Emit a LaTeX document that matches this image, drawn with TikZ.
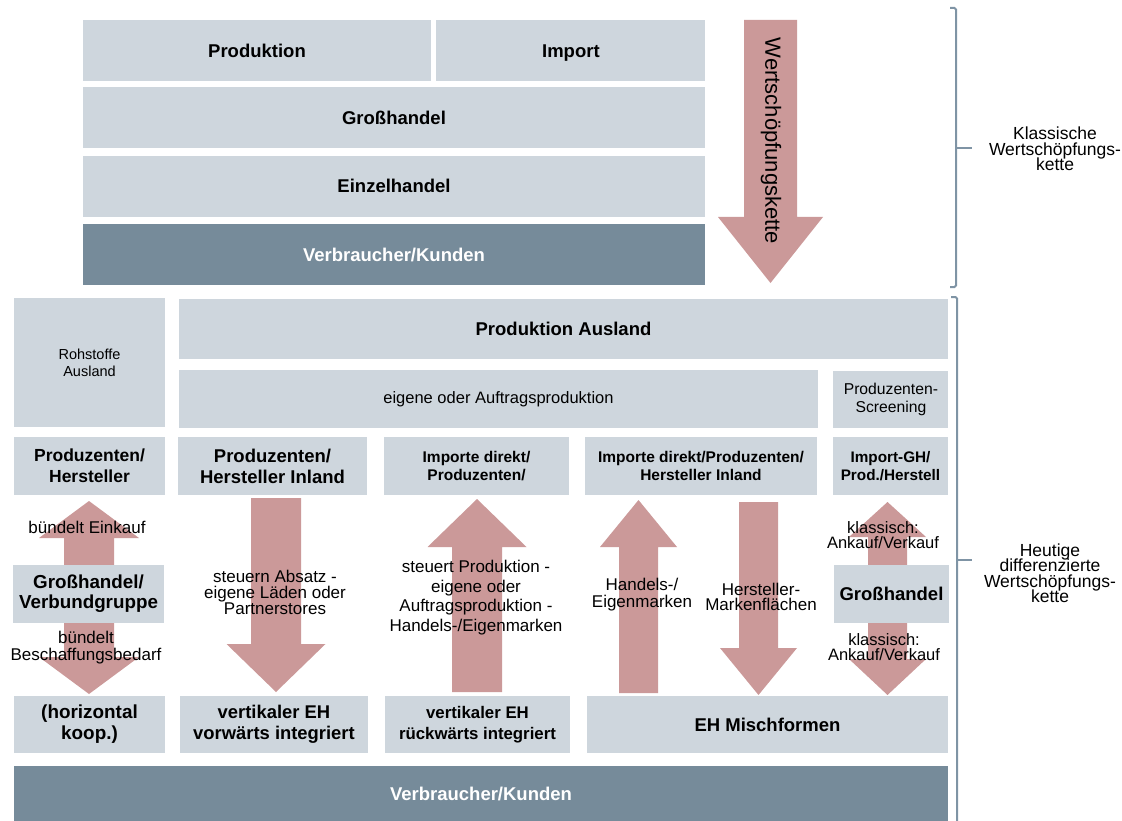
\documentclass[tikz,border=0pt]{standalone}
\usepackage{fontspec}
\setmainfont{Liberation Sans}
\usepackage{xcolor}
\usetikzlibrary{positioning}
\definecolor{boxgrey}{HTML}{CED6DD}
\definecolor{kundenblue}{HTML}{768B9A}
\definecolor{arrowred}{HTML}{CB9999}
\definecolor{bracketblue}{HTML}{7F94A5}
\setlength{\lineskiplimit}{-30pt}

\begin{document}
\begin{tikzpicture}[x=1pt, y=-1pt, box/.style={rectangle, fill=boxgrey, draw=none, inner sep=0pt, align=center, font=\bfseries\fontsize{18.5}{21}\selectfont}, oneline/.style={text height=13.3pt, text depth=0pt}, smallbox/.style={box, font=\bfseries\fontsize{15.5}{18}\selectfont}, thinbox/.style={box, font=\fontsize{15.7}{18}\selectfont}, kundenbox/.style={box, oneline, fill=kundenblue, text=white}, arrowtext/.style={draw=none, fill=none, inner sep=0pt, align=center, font=\fontsize{17}{17}\selectfont}, bigarrow/.style={fill=arrowred, draw=none}, bracket/.style={draw=bracketblue, line width=2pt, rounded corners=1.5pt}, sidetext/.style={draw=none, inner sep=0pt, align=center, font=\fontsize{17.5}{15.5}\selectfont}]

    \useasboundingbox (0,0) rectangle (1122,821);

    %Klassische Kette
    \node[box, oneline, minimum width=348pt, minimum height=61pt](produktion) at (257,50.5){Produktion};
    \node[box, oneline, minimum width=269pt, minimum height=61pt](import)[right=5pt of produktion]{Import};
    \node[box, oneline, minimum width=622pt, minimum height=61pt](grosshandel)[below=6pt of produktion.south west, anchor=north west]{Großhandel};
    \node[box, oneline, minimum width=622pt, minimum height=61pt](einzelhandel)[below=7pt of grosshandel]{Einzelhandel};
    \node[kundenbox, minimum width=622pt, minimum height=61pt](kunden)[below=7pt of einzelhandel]{Verbraucher/Kunden};

    \fill[bigarrow] (744,20) -- (797,20) -- (797,217) -- (823,217) -- (770.5,283) -- (718,217) -- (744,217) -- cycle;
    \node[rotate=-90, inner sep=0pt, font=\fontsize{22}{22}\selectfont](wsk) at (771,141){Wertschöpfungskette};

    \draw[bracket] (950,8) -- (956,8) -- (956,287) -- (950,287);
    \draw[bracket] (956,148) -- (972,148);
    \node[sidetext](klassisch) at (1055,149){Klassische\\Wertschöpfungs-\\kette};

    %Arrows
    \fill[bigarrow] (89,501) -- (139,538) -- (114,538) -- (114,657) -- (139,657) -- (89,694) -- (39,657) -- (64,657) -- (64,538) -- (39,538) -- cycle;
    \fill[bigarrow] (251,498) -- (301,498) -- (301,644) -- (325.5,644) -- (276,692) -- (226.5,644) -- (251,644) -- cycle;
    \fill[bigarrow] (477,499) -- (526.5,547) -- (502,547) -- (502,692) -- (452,692) -- (452,547) -- (427.5,547) -- cycle;
    \fill[bigarrow] (638.5,500) -- (677,547) -- (658,547) -- (658,693) -- (619,693) -- (619,547) -- (600,547) -- cycle;
    \fill[bigarrow] (739,502) -- (778,502) -- (778,648) -- (797,648) -- (758.5,695) -- (720,648) -- (739,648) -- cycle;
    \fill[bigarrow] (887.5,502) -- (926,537) -- (907,537) -- (907,659) -- (926,659) -- (887.5,695) -- (849,659) -- (868,659) -- (868,537) -- (849,537) -- cycle;

    %Heutige Kette
    \node[thinbox, minimum width=151pt, minimum height=129pt, font=\fontsize{14.5}{17}\selectfont](rohstoffe) at (89.5,362.5){Rohstoffe\\Ausland};
    \node[box, oneline, minimum width=769pt, minimum height=60pt](ausland) at (563.5,329){Produktion Ausland};
    \node[thinbox, minimum width=639pt, minimum height=58pt, font=\fontsize{16.5}{18}\selectfont](auftrag) at (498.5,399){eigene oder Auftragsproduktion};
    \node[thinbox, minimum width=115pt, minimum height=57pt](screening)[right=15pt of auftrag]{Produzenten-\\Screening};

    \node[box, minimum width=151pt, minimum height=58pt, font=\bfseries\fontsize{17.5}{21}\selectfont](hersteller) at (89.5,466){Produzenten/\\Hersteller};
    \node[box, minimum width=189pt, minimum height=58pt](inland) at (272.5,466){Produzenten/\\Hersteller Inland};
    \node[smallbox, minimum width=185pt, minimum height=58pt](importdirekt) at (476.5,466){Importe direkt/\\Produzenten/};
    \node[smallbox, minimum width=232pt, minimum height=58pt](importinland) at (701,466){Importe direkt/Produzenten/\\Hersteller Inland};
    \node[smallbox, minimum width=115pt, minimum height=58pt, font=\bfseries\fontsize{15.3}{18}\selectfont](importgh) at (890.5,466){Import-GH/\\Prod./Herstell};

    \node[box, minimum width=151pt, minimum height=58pt, font=\bfseries\fontsize{18.8}{20}\selectfont](verbund) at (88.5,594){Großhandel/\\Verbundgruppe};
    \node[box, oneline, minimum width=115pt, minimum height=58pt](grosshandelrechts) at (891.5,594){Großhandel};

    \node[box, minimum width=151pt, minimum height=57pt, font=\bfseries\fontsize{18.9}{21}\selectfont](horizontal) at (89.5,724.5){(horizontal\\koop.)};
    \node[box, minimum width=188pt, minimum height=57pt, font=\bfseries\fontsize{18.4}{21}\selectfont](vorwaerts) at (274,724.5){vertikaler EH\\vorwärts integriert};
    \node[box, minimum width=185pt, minimum height=57pt, font=\bfseries\fontsize{16.8}{21}\selectfont](rueckwaerts) at (477.5,724.5){vertikaler EH\\rückwärts integriert};
    \node[box, oneline, minimum width=361pt, minimum height=57pt](mischformen) at (767.5,724.5){EH Mischformen};
    \node[kundenbox, minimum width=934pt, minimum height=55pt](endkunden) at (481,793.5){Verbraucher/Kunden};

    %Arrow texts
    \node[arrowtext](einkauf) at (87,527){bündelt Einkauf};
    \node[arrowtext](bedarf) at (86,647.5){bündelt\\Beschaffungsbedarf};
    \node[arrowtext, font=\fontsize{17}{16}\selectfont](absatz) at (275,592){steuern Absatz -\\eigene Läden oder\\Partnerstores};
    \node[arrowtext, font=\fontsize{17}{19.5}\selectfont](steuert) at (476,597.5){steuert Produktion -\\eigene oder\\Auftragsproduktion -\\Handels-/Eigenmarken};
    \node[arrowtext](handelsmarken) at (642,594.5){Handels-/\\Eigenmarken};
    \node[arrowtext, font=\fontsize{17}{15}\selectfont](markenflaechen) at (761,596.5){Hersteller-\\Markenflächen};
    \node[arrowtext, font=\fontsize{16.5}{15}\selectfont](ankaufoben) at (883,535.5){klassisch:\\Ankauf/Verkauf};
    \node[arrowtext, font=\fontsize{16.5}{15}\selectfont](ankaufunten) at (884,647.5){klassisch:\\Ankauf/Verkauf};

    \draw[bracket] (951,297) -- (957,297) -- (957,821);
    \draw[bracket] (957,560) -- (972,560);
    \node[sidetext](heutige) at (1050,573){Heutige\\differenzierte\\Wertschöpfungs-\\kette};

\end{tikzpicture}
\end{document}
